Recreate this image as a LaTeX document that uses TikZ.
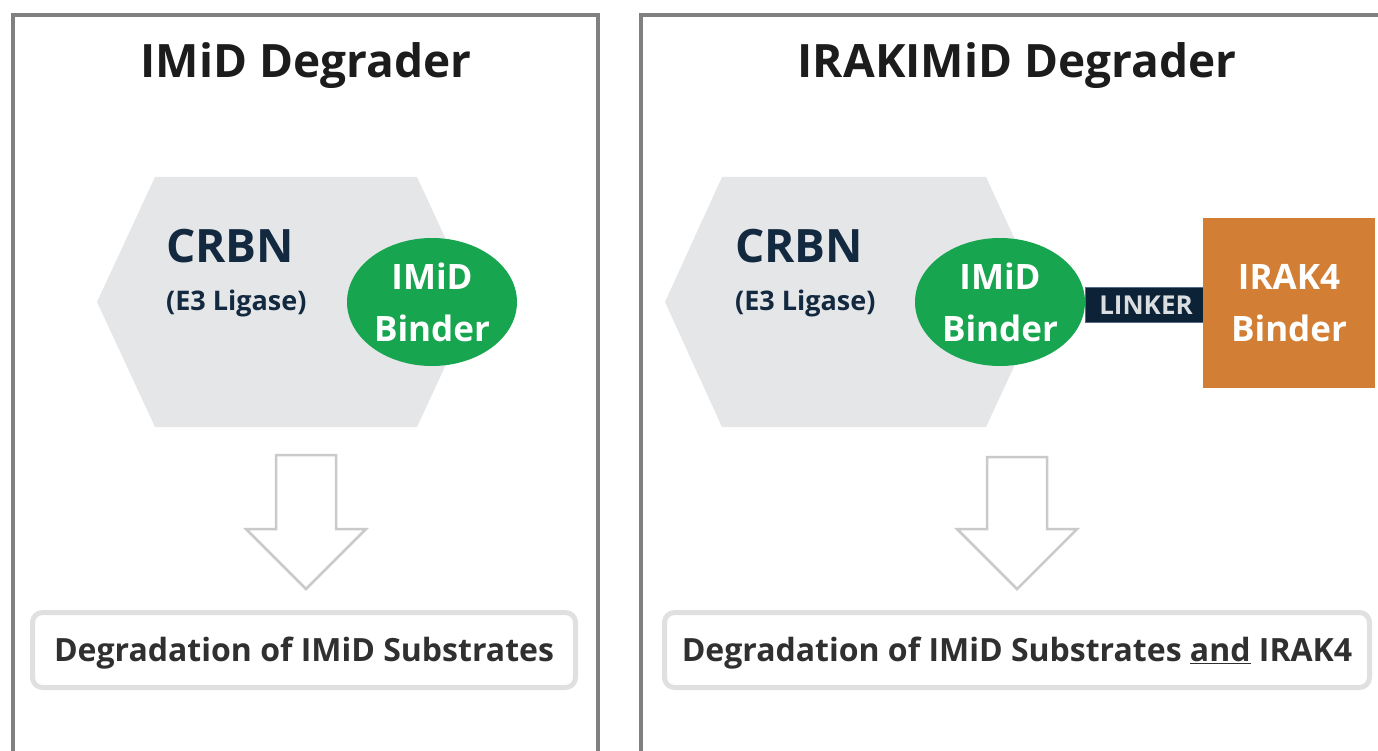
\documentclass[tikz,border=0pt]{standalone}
\usepackage{fontspec}
\setmainfont{Open Sans}
\usetikzlibrary{shapes.geometric}

\definecolor{framegray}{HTML}{808080}
\definecolor{hexgray}{HTML}{E5E6E8}
\definecolor{imidgreen}{HTML}{17A550}
\definecolor{irakorange}{HTML}{D27F35}
\definecolor{linkernavy}{HTML}{0C2236}
\definecolor{linkeredge}{HTML}{55698A}
\definecolor{crbnnavy}{HTML}{13293F}
\definecolor{arrowgray}{HTML}{CACACA}
\definecolor{boxgray}{HTML}{E0E0E0}
\definecolor{resulttext}{HTML}{303030}
\definecolor{titletext}{HTML}{1C1C1C}

\begin{document}
\begin{tikzpicture}[x=1pt, y=-1pt,
	panel/.style={framegray, line width=3.5pt},
	hexfill/.style={fill=hexgray},
	heading/.style={anchor=base, inner sep=0pt, text=titletext, font=\bfseries\fontsize{46}{55}\selectfont},
	crbnlabel/.style={anchor=base west, inner sep=0pt, text=crbnnavy, font=\bfseries\fontsize{46}{55}\selectfont},
	e3label/.style={anchor=base west, inner sep=0pt, text=crbnnavy, font=\bfseries\fontsize{27}{32}\selectfont},
	binder/.style={ellipse, fill=imidgreen, text=white, minimum width=170pt, minimum height=128pt, inner sep=0pt, align=center, font=\bfseries\fontsize{35}{52}\selectfont},
	irakbox/.style={rectangle, fill=irakorange, text=white, minimum width=172pt, minimum height=170pt, inner sep=0pt, align=center, font=\bfseries\fontsize{35}{52}\selectfont},
	linkerbar/.style={rectangle, fill=linkernavy, draw=linkeredge, line width=1.5pt, text=white!85!linkernavy, minimum width=121pt, minimum height=35pt, inner sep=0pt, font=\bfseries\fontsize{26}{30}\selectfont},
	bigarrow/.style={draw=arrowgray, fill=white, line width=2.5pt, line join=miter},
	resultbox/.style={rectangle, rounded corners=10pt, draw=boxgray, line width=5pt, fill=white, minimum height=75pt, inner sep=0pt, text height=23pt, text depth=0pt, text=resulttext, font=\bfseries\fontsize{32}{38}\selectfont}]

	\useasboundingbox (0,0) rectangle (1378,751);

	% panels
	\draw[panel] (13,765) |- (598,15) -- (598,765);
	\draw[panel] (641,765) |- (1395,15);

	\node[heading] (titleA) at (306,78) {IMiD Degrader};
	\node[heading] (titleB) at (1017,78) {IRAKIMiD Degrader};

	% left: IMiD degrader
	\fill[hexfill] (97,302) -- (155,177) -- (417,177) -- (475,302) -- (417,427) -- (155,427) -- cycle;
	\node[crbnlabel] (crbnA) at (166,263) {CRBN};
	\node[e3label] (ligaseA) at (166,310) {(E3 Ligase)};
	\node[binder] (imidA) at (432,302) {IMiD\\Binder};

	\draw[bigarrow] (276,455) -- (336,455) -- (336,529) -- (366,529) -- (306,589) -- (246,529) -- (276,529) -- cycle;
	\node[resultbox, minimum width=543pt] (resultA) at (304,650) {Degradation of IMiD Substrates};

	% right: IRAKIMiD degrader
	\fill[hexfill] (665,302) -- (722,177) -- (986,177) -- (1044,302) -- (986,427) -- (722,427) -- cycle;
	\node[crbnlabel] (crbnB) at (735,263) {CRBN};
	\node[e3label] (ligaseB) at (735,310) {(E3 Ligase)};
	\node[linkerbar] (linkerB) at (1146,305) {LINKER};
	\node[binder] (imidB) at (1000,302) {IMiD\\Binder};
	\node[irakbox] (irakB) at (1289,303) {IRAK4\\Binder};

	\draw[bigarrow] (987,457) -- (1047,457) -- (1047,529) -- (1077,529) -- (1017,589) -- (957,529) -- (987,529) -- cycle;
	\node[resultbox, minimum width=705pt] (resultB) at (1017,650) {Degradation of IMiD Substrates \underline{and} IRAK4};

\end{tikzpicture}
\end{document}
